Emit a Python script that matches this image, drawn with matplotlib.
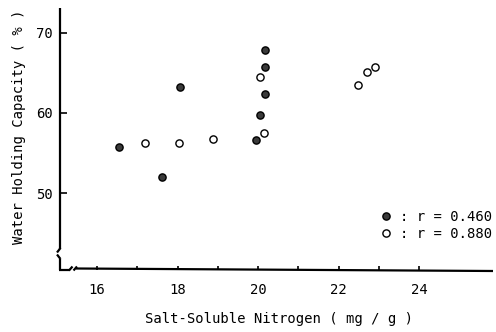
import matplotlib
matplotlib.use("Agg")
import matplotlib.pyplot as plt
from matplotlib.lines import Line2D

plt.rcParams['font.family'] = ['DejaVu Sans Mono']

# Data
filled_x = [16.55, 17.6, 18.05, 19.94, 20.04, 20.17, 20.17, 20.16]
filled_y = [55.7, 52.0, 63.2, 56.6, 59.8, 62.4, 65.7, 67.8]
open_x = [17.18, 18.03, 18.88, 20.15, 20.04, 22.48, 22.69, 22.91]
open_y = [56.3, 56.2, 56.8, 57.5, 64.5, 63.5, 65.1, 65.75]
label_filled = ": r = 0.460"
label_open = ": r = 0.880"
xticks = [16, 18, 20, 22, 24]
xminor = [17, 19, 21, 23]
yticks = [50, 60, 70]

W, H = 496, 332
fig = plt.figure(figsize=(W/100, H/100), dpi=100)
L, R, B, T = 60, 493, 270, 8
ax = fig.add_axes([L/W, (H-B)/H, (R-L)/W, (B-T)/H])

ax.scatter(filled_x, filled_y, s=27, facecolor='#3a3a3a', edgecolor='black', linewidth=1.0, zorder=3)
ax.scatter(open_x, open_y, s=27, facecolor='white', edgecolor='black', linewidth=1.0, zorder=3)

ax.set_xlim(15.08, 25.83)
ax.set_ylim(40.4, 73.1)

for s in ax.spines.values():
    s.set_visible(False)

ax.set_xticks(xticks)
ax.set_xticks(xminor, minor=True)
ax.set_yticks(yticks)
ax.tick_params(axis='x', which='both', direction='in', length=3, width=1.2, pad=9, labelsize=10)
ax.tick_params(axis='y', direction='in', length=5, width=1.2, pad=5, labelsize=10)

def fx(px):
    return (px - L) / (R - L)
def fy(py):
    return (B - py) / (B - T)

lw = 1.6
tr = ax.transAxes
segs = [
    ([fx(60), fx(60)], [fy(8), fy(249)]),
    ([fx(60.5), fx(57)], [fy(248), fy(252.5)]),
    ([fx(57), fx(60.5)], [fy(254.5), fy(259)]),
    ([fx(60), fx(60)], [fy(259), fy(270)]),
    ([fx(59.3), fx(70)], [fy(270), fy(270)]),
    ([fx(69), fx(72.5)], [fy(270.5), fy(266.5)]),
    ([fx(73.5), fx(77)], [fy(270.5), fy(266.5)]),
    ([fx(76), fx(493)], [fy(268.5), fy(271)]),
]
for xs, ys in segs:
    ax.add_line(Line2D(xs, ys, transform=tr, color='black', lw=lw, clip_on=False,
                       solid_capstyle='butt'))

ax.set_xlabel("Salt-Soluble Nitrogen ( mg / g )", fontsize=10)
ax.set_ylabel("Water Holding Capacity ( % )", fontsize=10)
ax.xaxis.set_label_coords(fx(279), fy(312))
ax.yaxis.set_label_coords(fx(26), fy(127))

h1 = Line2D([], [], ls='none', marker='o', ms=5.2, mfc='#3a3a3a', mec='black', mew=1.0)
h2 = Line2D([], [], ls='none', marker='o', ms=5.2, mfc='white', mec='black', mew=1.0)
ax.legend([h1, h2], [label_filled, label_open], frameon=False, fontsize=10,
          loc='upper left', bbox_to_anchor=(fx(379), fy(210)),
          handlelength=1.0, handletextpad=0.5, labelspacing=0.2, borderpad=0, borderaxespad=0)

fig.savefig("out.png", dpi=100)
